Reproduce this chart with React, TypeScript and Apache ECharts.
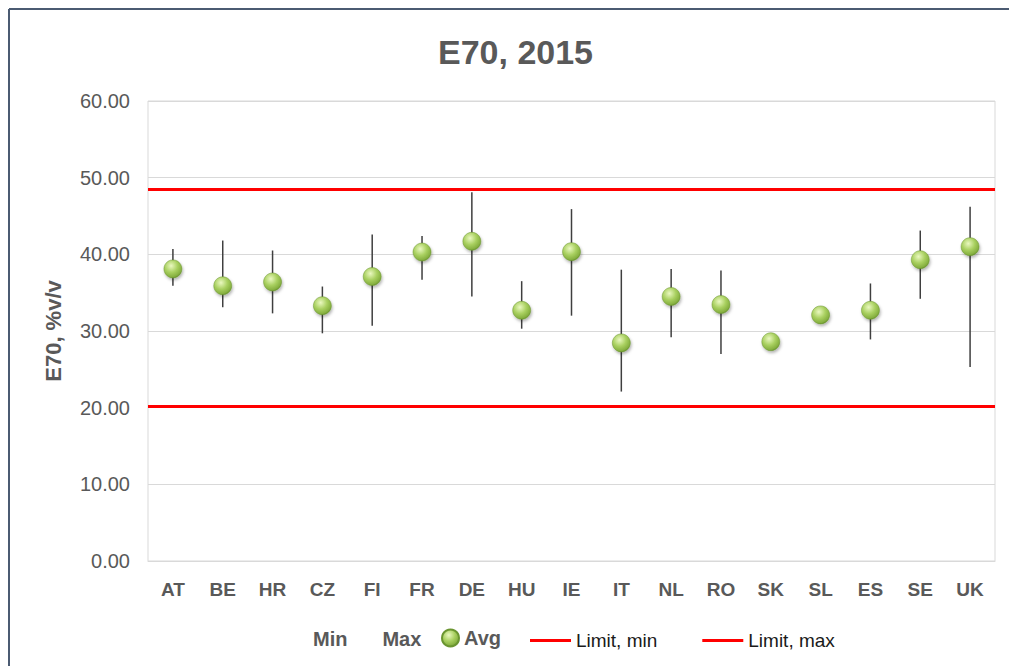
import React, { useEffect, useRef } from "react";
import * as echarts from "echarts";

const categories = ["AT", "BE", "HR", "CZ", "FI", "FR", "DE", "HU", "IE", "IT", "NL", "RO", "SK", "SL", "ES", "SE", "UK"];
const minValues = [35.9, 33.1, 32.3, 29.7, 30.7, 36.7, 34.5, 30.3, 32.0, 22.1, 29.2, 27.0, 28.6, 32.1, 28.9, 34.2, 25.3];
const maxValues = [40.7, 41.8, 40.5, 35.8, 42.6, 42.4, 48.1, 36.5, 45.9, 38.0, 38.1, 37.9, 28.6, 32.1, 36.2, 43.1, 46.2];
const avgValues = [38.1, 35.9, 36.4, 33.3, 37.1, 40.3, 41.7, 32.7, 40.35, 28.45, 34.5, 33.45, 28.6, 32.1, 32.7, 39.3, 41.0];
const limitMin = [20.2];
const limitMax = [48.5];
const yTicks = [0, 10, 20, 30, 40, 50, 60];

const GRAY = "#595959";

export default function App() {
  const ref = useRef<HTMLDivElement>(null);

  useEffect(() => {
    if (!ref.current) return;
    const chart = echarts.init(ref.current, undefined, { renderer: "svg" });

    const sphere = () =>
      new echarts.graphic.RadialGradient(0.4, 0.33, 0.72, [
        { offset: 0, color: "#eaf8c0" },
        { offset: 0.5, color: "#a9d060" },
        { offset: 0.85, color: "#86b040" },
        { offset: 1, color: "#5f8a24" },
      ]);

    const whiskerData = categories.map((_, i) => [i, minValues[i], maxValues[i]]);

    chart.setOption({
      animation: false,
      backgroundColor: "#ffffff",
      title: {
        text: "E70, 2015",
        left: 433,
        top: 30,
        textStyle: { fontFamily: "Liberation Sans, Arial", fontSize: 34, fontWeight: "bold", color: GRAY },
      },
      graphic: [
        { type: "line", shape: { x1: 9, y1: 9, x2: 1009, y2: 9 }, style: { stroke: "#4b5b72", lineWidth: 2 } },
        { type: "line", shape: { x1: 9, y1: 9, x2: 9, y2: 666 }, style: { stroke: "#4b5b72", lineWidth: 2 } },
      ],
      grid: {
        left: 148,
        right: 14,
        top: 101,
        bottom: 105,
        show: true,
        borderColor: "#d9d9d9",
        borderWidth: 1,
      },
      legend: [
        {
          data: [
            { name: "Min", icon: "none" },
            { name: "Max", icon: "none" },
          ],
          left: 308,
          top: 629,
          padding: 0,
          itemWidth: 0,
          itemHeight: 14,
          itemGap: 30,
          textStyle: { fontFamily: "Liberation Sans, Arial", fontSize: 20, fontWeight: "bold", color: GRAY },
        },
        {
          data: [{ name: "Avg", icon: "circle" }],
          left: 441,
          top: 628,
          padding: 0,
          itemWidth: 17,
          itemHeight: 17,
          textStyle: { fontFamily: "Liberation Sans, Arial", fontSize: 20, fontWeight: "bold", color: GRAY },
        },
        {
          data: [
            { name: "Limit, min", icon: "rect" },
            { name: "Limit, max", icon: "rect" },
          ],
          left: 530,
          top: 631,
          padding: 0,
          itemWidth: 41,
          itemHeight: 3,
          itemGap: 45,
          textStyle: { fontFamily: "Liberation Sans, Arial", fontSize: 19, color: "#1a1a1a" },
        },
      ],
      xAxis: {
        type: "category",
        data: categories,
        boundaryGap: true,
        axisLine: { show: true, lineStyle: { color: "#d9d9d9" } },
        axisTick: { show: false },
        axisLabel: {
          margin: 19,
          fontFamily: "Liberation Sans, Arial",
          fontSize: 19,
          fontWeight: "bold",
          color: GRAY,
        },
      },
      yAxis: {
        type: "value",
        min: yTicks[0],
        max: yTicks[yTicks.length - 1],
        interval: 10,
        name: "E70, %v/v",
        nameLocation: "middle",
        nameGap: 84,
        nameTextStyle: { fontFamily: "Liberation Sans, Arial", fontSize: 22, fontWeight: "bold", color: GRAY },
        axisLine: { show: false },
        axisTick: { show: false },
        splitLine: { show: true, lineStyle: { color: "#d9d9d9", width: 1 } },
        axisLabel: {
          margin: 18,
          fontFamily: "Liberation Sans, Arial",
          fontSize: 20,
          color: GRAY,
          formatter: (v: number) => v.toFixed(2),
        },
      },
      series: [
        {
          name: "Min",
          type: "line",
          data: minValues,
          showSymbol: false,
          symbol: "none",
          lineStyle: { opacity: 0 },
          itemStyle: { color: "#ffffff" },
        },
        {
          name: "Max",
          type: "line",
          data: maxValues,
          showSymbol: false,
          symbol: "none",
          lineStyle: { opacity: 0 },
          itemStyle: { color: "#ffffff" },
        },
        {
          name: "whiskers",
          type: "custom",
          data: whiskerData,
          z: 1,
          encode: { x: 0, y: [1, 2] },
          renderItem: (params: any, api: any) => {
            const x = api.value(0);
            const lo = api.coord([x, api.value(1)]);
            const hi = api.coord([x, api.value(2)]);
            return {
              type: "line",
              shape: { x1: lo[0], y1: lo[1], x2: hi[0], y2: hi[1] },
              style: { stroke: "#3f3f3f", lineWidth: 1.5 },
            };
          },
        },
        {
          name: "Avg",
          type: "line",
          data: avgValues,
          z: 5,
          symbol: "circle",
          symbolSize: 18,
          lineStyle: { opacity: 0 },
          itemStyle: {
            color: sphere(),
            borderColor: "#6a9530",
            borderWidth: 0.5,
            shadowColor: "rgba(0,0,0,0.3)",
            shadowBlur: 3,
            shadowOffsetX: 1,
            shadowOffsetY: 2,
          },
        },
        {
          name: "Limit, min",
          type: "line",
          data: [],
          itemStyle: { color: "#ff0000" },
          lineStyle: { color: "#ff0000", width: 3 },
          markLine: {
            silent: true,
            symbol: "none",
            label: { show: false },
            lineStyle: { color: "#ff0000", width: 3, type: "solid" },
            data: limitMin.map((v) => ({ yAxis: v })),
          },
        },
        {
          name: "Limit, max",
          type: "line",
          data: [],
          itemStyle: { color: "#ff0000" },
          lineStyle: { color: "#ff0000", width: 3 },
          markLine: {
            silent: true,
            symbol: "none",
            label: { show: false },
            lineStyle: { color: "#ff0000", width: 3, type: "solid" },
            data: limitMax.map((v) => ({ yAxis: v })),
          },
        },
      ],
    });

    return () => chart.dispose();
  }, []);

  return (
    <div
      ref={ref}
      style={{ position: "fixed", left: 0, top: 0, width: 1009, height: 666 }}
    />
  );
}
